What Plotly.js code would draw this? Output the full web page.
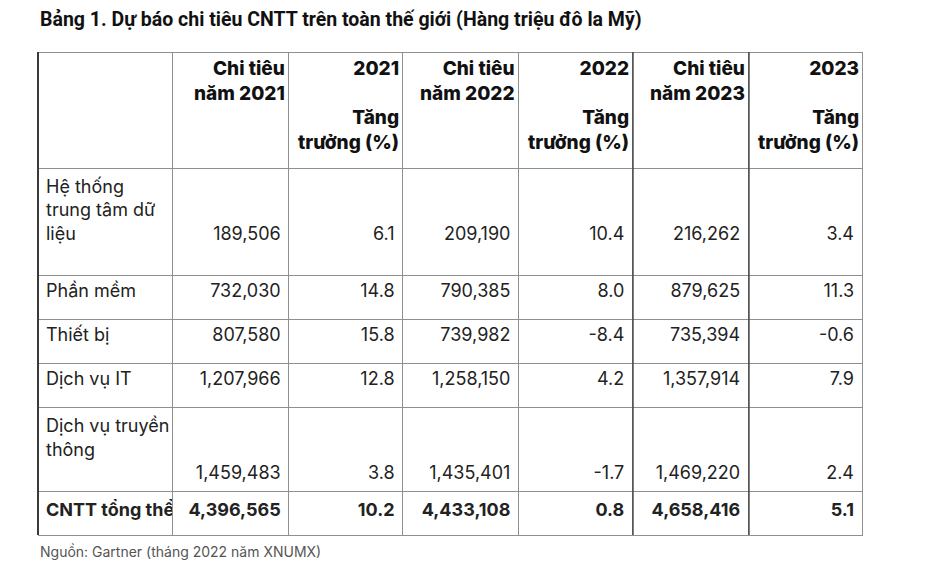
<!DOCTYPE html>
<html>
<head>
<meta charset="utf-8">
<script src="https://cdn.plot.ly/plotly-3.0.1.min.js"></script>
<style>html,body{margin:0;padding:0;background:#fff;}#chart{width:943px;height:568px;}</style>
</head>
<body>
<div id="chart"></div>
<script>
const titleText = "Bảng 1. Dự báo chi tiêu CNTT trên toàn thế giới (Hàng triệu đô la Mỹ)";
const sourceText = "Nguồn: Gartner (tháng 2022 năm XNUMX)";

const headers = ["", "Chi tiêu<br>năm 2021", "2021<br><br>Tăng<br>trưởng (%)", "Chi tiêu<br>năm 2022", "2022<br><br>Tăng<br>trưởng (%)", "Chi tiêu<br>năm 2023", "2023<br><br>Tăng<br>trưởng (%)"];

const categories = ["Hệ thống<br>trung tâm dữ<br>liệu", "Phần mềm", "Thiết bị", "Dịch vụ IT", "Dịch vụ truyền<br>thông", "CNTT tổng thể"];
const spend2021 = [189506, 732030, 807580, 1207966, 1459483, 4396565];
const growth2021 = [6.1, 14.8, 15.8, 12.8, 3.8, 10.2];
const spend2022 = [209190, 790385, 739982, 1258150, 1435401, 4433108];
const growth2022 = [10.4, 8.0, -8.4, 4.2, -1.7, 0.8];
const spend2023 = [216262, 879625, 735394, 1357914, 1469220, 4658416];
const growth2023 = [3.4, 11.3, -0.6, 7.9, 2.4, 5.1];

// ---- layout helpers (not data) ----
const NB = "\u00a0";
const leadLines = [2, 0, 0, 0, 2, 0];   // numeric cells pushed down by N lines
const trailLines = [1, 0, 0, 0, 0, 0];  // extra spacer lines under the label
const totalIdx = categories.length - 1;
const colWidths = [135, 116, 114, 116, 114, 116, 114];
const darkEdges = [0, 5, 6];            // column boundaries drawn darker
const W = 943, H = 568;
const X0 = 38, X1 = 863, Y0 = 52;

function fmtInt(v){ return v.toLocaleString("en-US"); }
function fmtPct(v){ return v.toFixed(1); }
function decorate(arr, fmt){
  return arr.map((v,i)=>{
    let s = fmt(v);
    if (i === totalIdx) s = "<b>" + s + "</b>";
    return (NB + "<br>").repeat(leadLines[i]) + s;
  });
}
const labelCol = categories.map((c,i)=>{
  let s = c;
  if (i === totalIdx) s = "<b>" + c.replace(/ /g, NB) + "</b>";
  return s + ("<br>" + NB).repeat(trailLines[i]);
});

const trace = {
  type: "table",
  domain: {x: [X0/W, X1/W], y: [0, 1 - Y0/H]},
  columnwidth: colWidths,
  header: {
    values: headers.map(() => ""),
    height: 116,
    fill: {color: "#ffffff"},
    line: {color: "#8f8f8f", width: 1},
    font: {family: "Inter, sans-serif", size: 18, color: "#111111"}
  },
  cells: {
    values: [labelCol, decorate(spend2021, fmtInt), decorate(growth2021, fmtPct), decorate(spend2022, fmtInt), decorate(growth2022, fmtPct), decorate(spend2023, fmtInt), decorate(growth2023, fmtPct)],
    align: ["left","right","right","right","right","right","right"],
    height: 44,
    fill: {color: "#ffffff"},
    line: {color: "#8f8f8f", width: 1},
    font: {family: "Inter, sans-serif", size: 18, color: "#222222"}
  }
};

// column boundary positions (paper px)
const totalW = colWidths.reduce((a,b)=>a+b, 0);
const scale = (X1 - X0) / totalW;
const edges = [X0];
colWidths.reduce((acc, w) => { acc += w; edges.push(X0 + acc * scale); return acc; }, 0);

// header labels: each line right-aligned at the column's right edge
const headerAnns = [];
headers.forEach((h, i) => {
  if (!h) return;
  headerAnns.push({
    text: h,
    xref: "paper", yref: "paper",
    x: (edges[i + 1] - 2) / W, y: 1 - (Y0 + 3) / H,
    xanchor: "right", yanchor: "top", align: "right",
    showarrow: false,
    font: {family: "Inter, sans-serif", size: 19, color: "#111111", weight: 800}
  });
});

const layout = {
  width: W, height: H,
  margin: {l: 0, r: 0, t: 0, b: 0},
  paper_bgcolor: "#ffffff",
  showlegend: false,
  annotations: [
    {text: "<b>" + titleText + "</b>", xref: "paper", yref: "paper", x: X0/W, y: 1 - 20/H, xanchor: "left", yanchor: "middle", showarrow: false, font: {family: "Roboto, sans-serif", size: 19.5, color: "#111111"}},
    {text: sourceText, xref: "paper", yref: "paper", x: X0/W, y: 1 - 551/H, xanchor: "left", yanchor: "middle", showarrow: false, font: {family: "Inter, sans-serif", size: 14, color: "#555555"}}
  ].concat(headerAnns)
};

Plotly.newPlot("chart", [trace], layout, {displayModeBar: false, staticPlot: true}).then(gd => {
  // darker vertical rules spanning the rendered table height
  const rects = gd.querySelectorAll(".cell-rect");
  const top = gd.getBoundingClientRect().top;
  let bottom = 0;
  rects.forEach(r => { const b = r.getBoundingClientRect().bottom - top; if (b > bottom) bottom = b; });
  if (!bottom) return;
  const shapes = darkEdges.map(k => ({
    type: "line", xref: "paper", yref: "paper",
    x0: edges[k] / W, x1: edges[k] / W,
    y0: 1 - Y0 / H, y1: 1 - bottom / H,
    line: {color: "#3a3a3a", width: k === 0 ? 2 : 1.3}
  }));
  return Plotly.relayout(gd, {shapes: shapes});
});
</script>
</body>
</html>
